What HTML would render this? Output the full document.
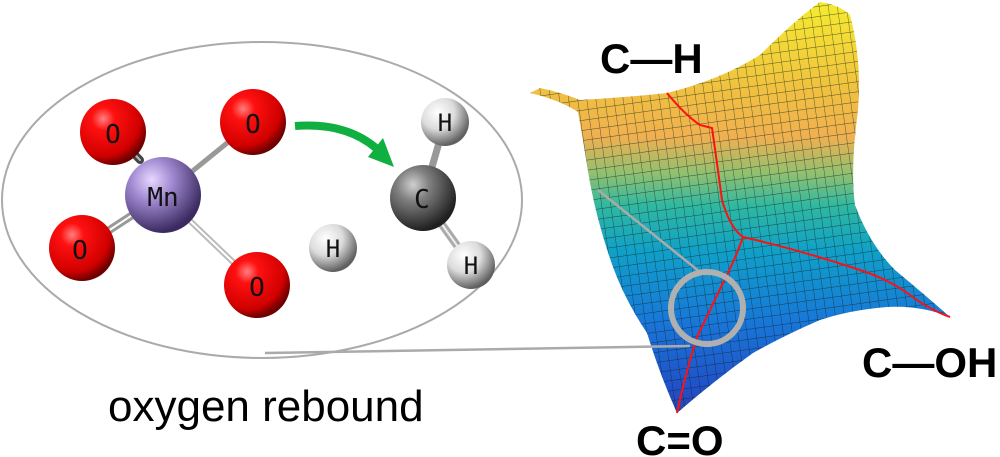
<!DOCTYPE html>
<html><head><meta charset="utf-8"><style>
html,body{margin:0;padding:0;background:#fff;width:1000px;height:457px;overflow:hidden}
</style></head><body>
<svg width="1000" height="457" viewBox="0 0 1000 457" xmlns="http://www.w3.org/2000/svg">
<defs>
<radialGradient id="red" cx="35%" cy="30%" r="70%"><stop offset="0" stop-color="#ff8080"/><stop offset="0.25" stop-color="#ff1010"/><stop offset="0.8" stop-color="#d00000"/><stop offset="1" stop-color="#700000"/></radialGradient>
<radialGradient id="mn" cx="35%" cy="30%" r="70%"><stop offset="0" stop-color="#e8d8ff"/><stop offset="0.4" stop-color="#a088d0"/><stop offset="1" stop-color="#3a2a60"/></radialGradient>
<radialGradient id="c" cx="35%" cy="30%" r="70%"><stop offset="0" stop-color="#d0d0d0"/><stop offset="0.35" stop-color="#808080"/><stop offset="1" stop-color="#202020"/></radialGradient>
<radialGradient id="h" cx="35%" cy="30%" r="70%"><stop offset="0" stop-color="#ffffff"/><stop offset="0.5" stop-color="#dcdcdc"/><stop offset="1" stop-color="#606060"/></radialGradient>
<linearGradient id="surf" x1="0" y1="0" x2="0" y2="457" gradientUnits="userSpaceOnUse">
<stop offset="0.02" stop-color="#f5e830"/><stop offset="0.2" stop-color="#f0c040"/><stop offset="0.3" stop-color="#f0b050"/><stop offset="0.38" stop-color="#90c070"/><stop offset="0.45" stop-color="#30b8a0"/><stop offset="0.55" stop-color="#10a0c8"/><stop offset="0.7" stop-color="#1878d8"/><stop offset="0.85" stop-color="#2050c8"/><stop offset="0.92" stop-color="#3040a8"/></linearGradient>
<pattern id="grid" width="9" height="10" patternUnits="userSpaceOnUse" patternTransform="rotate(-8)">
<path d="M0 0H9M0 0V10" stroke="#102020" stroke-opacity="0.7" stroke-width="0.9" fill="none"/></pattern>
<clipPath id="sc"><path d="M530 93 L540 88 Q560 92 580 100 Q630 97 667 93 Q720 80 760 55 Q795 20 820 2 Q840 5 850 15 Q862 60 858 110 Q850 170 855 205 Q870 245 895 270 Q925 295 950 317 Q920 305 887 307 Q850 310 820 320 Q785 335 753 353 Q715 380 677 413 Q660 375 647 333 Q625 300 613 267 Q598 225 590 183 Q583 140 578 112 Q560 100 530 93 Z"/></clipPath>
</defs>

<ellipse cx="262" cy="200" rx="260" ry="158" fill="none" stroke="#aaa" stroke-width="2"/>

<g stroke-linecap="round">
<line x1="163" y1="195" x2="253" y2="122" stroke="#999" stroke-width="5"/>
<line x1="163" y1="195" x2="257" y2="285" stroke="#bbb" stroke-width="6"/>
<line x1="163" y1="195" x2="257" y2="285" stroke="#fff" stroke-width="2"/>
<line x1="140" y1="160" x2="113" y2="132" stroke="#444" stroke-width="8"/>
<line x1="140" y1="160" x2="113" y2="132" stroke="#bbb" stroke-width="2"/>
<line x1="163" y1="195" x2="82" y2="248" stroke="#999" stroke-width="8"/>
<line x1="163" y1="195" x2="82" y2="248" stroke="#fff" stroke-width="2"/>
<line x1="423" y1="198" x2="445" y2="122" stroke="#999" stroke-width="7"/>
<line x1="423" y1="198" x2="471" y2="265" stroke="#aaa" stroke-width="8"/>
<line x1="423" y1="198" x2="471" y2="265" stroke="#eee" stroke-width="2"/>
</g>

<g font-family="'DejaVu Sans Mono','Liberation Mono',monospace" text-anchor="middle" fill="#111">
<circle cx="113" cy="132" r="33" fill="url(#red)"/><text x="113" y="143" font-size="26">O</text>
<circle cx="253" cy="122" r="33" fill="url(#red)"/><text x="253" y="133" font-size="26">O</text>
<circle cx="163" cy="195" r="38" fill="url(#mn)"/><text x="163" y="206" font-size="26">Mn</text>
<circle cx="82" cy="248" r="33" fill="url(#red)"/><text x="80" y="259" font-size="26">O</text>
<circle cx="257" cy="285" r="33" fill="url(#red)"/><text x="257" y="296" font-size="26">O</text>
<circle cx="333" cy="248" r="24" fill="url(#h)"/><text x="333" y="257" font-size="24">H</text>
<circle cx="445" cy="122" r="24" fill="url(#h)"/><text x="445" y="131" font-size="24">H</text>
<circle cx="423" cy="198" r="33" fill="url(#c)"/><text x="422" y="208" font-size="26">C</text>
<circle cx="471" cy="265" r="24" fill="url(#h)"/><text x="471" y="274" font-size="24">H</text>
</g>

<path d="M295 126 Q345 122 376 148" fill="none" stroke="#10b040" stroke-width="8"/>
<polygon points="394,167 368,157 383,138" fill="#10b040"/>

<g clip-path="url(#sc)">
<rect x="520" y="0" width="440" height="420" fill="url(#surf)"/>
<rect x="520" y="0" width="440" height="420" fill="url(#grid)"/>
</g>

<g fill="none" stroke="#ff1010" stroke-width="2">
<path d="M667 93 Q685 115 700 125 L712 128 Q718 170 722 200 Q730 228 743 237"/>
<path d="M743 237 Q800 250 860 270 Q890 280 910 295 Q930 310 950 317"/>
<path d="M743 237 Q735 260 722 285 Q710 310 697 337 Q685 375 677 413"/>
</g>

<line x1="598" y1="190" x2="700" y2="272" stroke="#aaa" stroke-width="2.5"/>
<line x1="265" y1="353" x2="690" y2="346" stroke="#aaa" stroke-width="2.5"/>
<circle cx="707" cy="308" r="36" fill="none" stroke="#b0b0b0" stroke-width="6"/>

<g font-family="'Liberation Sans',Arial,sans-serif" font-weight="bold" font-size="42" fill="#000">
<text x="600" y="73">C—H</text>
<text x="862" y="377">C—OH</text>
<text x="636" y="455">C=O</text>
</g>
<text x="108" y="421" font-family="'Liberation Sans',Arial,sans-serif" font-size="44" fill="#000">oxygen rebound</text>
</svg>
</body></html>
